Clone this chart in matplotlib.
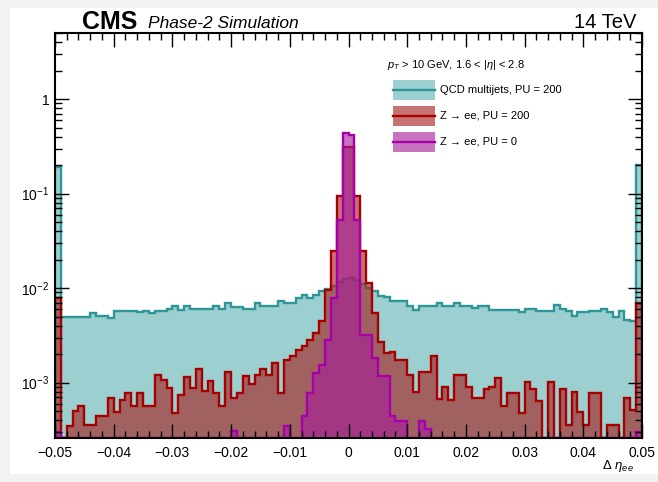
import numpy as np
import matplotlib
matplotlib.use("Agg")
import matplotlib.pyplot as plt
from matplotlib.patches import Rectangle
from matplotlib.lines import Line2D
from matplotlib.ticker import FixedLocator, FixedFormatter, MultipleLocator, LogLocator, NullFormatter

plt.rcParams["font.family"] = ["Liberation Sans", "DejaVu Sans"]
plt.rcParams["mathtext.fontset"] = "custom"
plt.rcParams["mathtext.rm"] = "Liberation Sans"
plt.rcParams["mathtext.it"] = "Liberation Sans:italic"

# 100 bins of 0.001 in delta eta
edges = np.linspace(-0.05, 0.05, 101)

qcd_pu200 = [
    0.19, 5.0e-3, 5.0e-3, 5.0e-3, 5.0e-3, 5.0e-3, 5.5e-3, 5.1e-3, 5.1e-3, 4.8e-3,
    5.7e-3, 5.7e-3, 5.7e-3, 5.7e-3, 5.6e-3, 5.7e-3, 5.5e-3, 5.7e-3, 5.8e-3, 6.0e-3,
    6.4e-3, 5.9e-3, 6.5e-3, 6.0e-3, 6.0e-3, 6.0e-3, 6.0e-3, 6.4e-3, 6.0e-3, 6.9e-3,
    6.3e-3, 6.3e-3, 6.0e-3, 6.0e-3, 6.9e-3, 6.4e-3, 6.4e-3, 6.4e-3, 7.3e-3, 7.0e-3,
    7.0e-3, 7.9e-3, 8.5e-3, 7.9e-3, 8.5e-3, 9.3e-3, 9.8e-3, 1.05e-2, 1.15e-2, 1.25e-2,
    1.28e-2, 1.22e-2, 1.12e-2, 1.0e-2, 9.3e-3, 8.2e-3, 8.0e-3, 7.3e-3, 7.3e-3, 7.3e-3,
    6.5e-3, 5.9e-3, 6.5e-3, 6.4e-3, 6.4e-3, 6.9e-3, 6.4e-3, 6.4e-3, 6.9e-3, 6.4e-3,
    6.4e-3, 6.2e-3, 6.5e-3, 6.5e-3, 5.9e-3, 5.9e-3, 5.9e-3, 5.9e-3, 5.9e-3, 5.55e-3,
    6.0e-3, 6.0e-3, 5.7e-3, 5.7e-3, 5.7e-3, 6.6e-3, 6.0e-3, 5.7e-3, 5.1e-3, 5.55e-3,
    5.55e-3, 5.7e-3, 5.7e-3, 6.0e-3, 5.55e-3, 5.0e-3, 5.7e-3, 4.6e-3, 4.5e-3, 0.2,
]

zee_pu200 = [
    7.9e-3, 0, 3.5e-4, 5.0e-4, 5.6e-4, 3.6e-4, 3.6e-4, 4.4e-4, 4.4e-4, 6.9e-4,
    4.95e-4, 6.5e-4, 7.75e-4, 5.6e-4, 7.75e-4, 5.7e-4, 5.7e-4, 1.21e-3, 1.07e-3, 8.75e-4,
    4.8e-4, 7.4e-4, 1.16e-3, 8.75e-4, 1.39e-3, 8.1e-4, 1.03e-3, 7.75e-4, 5.6e-4, 1.31e-3,
    6.9e-4, 7.75e-4, 1.18e-3, 9.7e-4, 1.21e-3, 1.39e-3, 1.21e-3, 1.61e-3, 7.75e-4, 1.75e-3,
    1.93e-3, 2.23e-3, 2.42e-3, 2.85e-3, 3.36e-3, 4.46e-3, 9.5e-3, 2.46e-2, 9.4e-2, 0.31,
    0.31, 9.4e-2, 2.46e-2, 1.14e-2, 5.5e-3, 2.7e-3, 2.06e-3, 2.1e-3, 1.75e-3, 1.75e-3,
    1.2e-3, 8.0e-4, 1.3e-3, 1.3e-3, 1.9e-3, 6.8e-4, 9.0e-4, 6.5e-4, 1.2e-3, 1.2e-3,
    8.9e-4, 6.9e-4, 6.9e-4, 8.5e-4, 8.9e-4, 1.13e-3, 5.7e-4, 7.8e-4, 7.8e-4, 4.8e-4,
    1.02e-3, 8.5e-4, 6.4e-4, 0, 1.02e-3, 0, 8.5e-4, 3.6e-4, 7.9e-4, 4.9e-4,
    3.6e-4, 7.8e-4, 7.8e-4, 0, 3.6e-4, 3.6e-4, 0, 6.9e-4, 5.2e-4, 7.0e-3,
]

zee_pu0 = [
    3.0e-4, 0, 0, 0, 0, 0, 0, 0, 0, 0,
    0, 0, 0, 0, 0, 0, 0, 0, 0, 0,
    0, 0, 0, 0, 0, 0, 0, 0, 0, 0,
    3.1e-4, 0, 0, 0, 0, 0, 0, 0, 0, 3.5e-4,
    0, 0, 4.4e-4, 7.8e-4, 1.26e-3, 1.55e-3, 2.8e-3, 7.9e-3, 5.2e-2, 0.44,
    0.42, 5.2e-2, 3.2e-3, 3.2e-3, 1.84e-3, 1.17e-3, 1.17e-3, 4.4e-4, 3.9e-4, 3.9e-4,
    0, 0, 3.9e-4, 3.2e-4, 0, 0, 0, 0, 0, 0,
    0, 0, 0, 0, 0, 0, 0, 0, 0, 0,
    0, 0, 0, 0, 0, 0, 0, 0, 0, 0,
    0, 0, 0, 0, 0, 0, 0, 0, 0, 3.0e-4,
]

labels = ["QCD multijets, PU = 200", "Z \u2192 ee, PU = 200", "Z \u2192 ee, PU = 0"]
x_ticks = [-0.05, -0.04, -0.03, -0.02, -0.01, 0.0, 0.01, 0.02, 0.03, 0.04, 0.05]
x_tick_labels = ["\u22120.05", "\u22120.04", "\u22120.03", "\u22120.02", "\u22120.01", "0",
                 "0.01", "0.02", "0.03", "0.04", "0.05"]
y_ticks = [1e-3, 1e-2, 1e-1, 1.0]
y_tick_labels = ["$10^{-3}$", "$10^{-2}$", "$10^{-1}$", "1"]

y_min, y_max = 2.6e-4, 5.0

fill_colors = ["#9ccfcf", "#a51e1e", "#a51e9a"]
fill_alpha = [1.0, 0.62, 0.62]
line_colors = ["#2e9696", "#a80000", "#a800a8"]

fig = plt.figure(figsize=(6.58, 4.82), dpi=100, facecolor="#f2f2f2")
fig.patches.append(Rectangle((10 / 658, 8 / 482), 648 / 658, 466 / 482, transform=fig.transFigure,
                             facecolor="white", edgecolor="none", zorder=-10))
ax = fig.add_axes([55 / 658, 44 / 482, 587 / 658, 405 / 482])

for vals, fc, a, lc in zip([qcd_pu200, zee_pu200, zee_pu0], fill_colors, fill_alpha, line_colors):
    v = np.maximum(np.asarray(vals, dtype=float), y_min)
    ax.stairs(v, edges, baseline=y_min, fill=True, color=fc, alpha=a, lw=0)
    ax.stairs(v, edges, baseline=y_min, color=lc, lw=1.7)

ax.set_xlim(-0.05, 0.05)
ax.set_yscale("log")
ax.set_ylim(y_min, y_max)
ax.xaxis.set_major_locator(FixedLocator(x_ticks))
ax.xaxis.set_major_formatter(FixedFormatter(x_tick_labels))
ax.xaxis.set_minor_locator(MultipleLocator(0.002))
ax.yaxis.set_major_locator(FixedLocator(y_ticks))
ax.yaxis.set_major_formatter(FixedFormatter(y_tick_labels))
ax.yaxis.set_minor_locator(LogLocator(base=10, subs=range(2, 10)))
ax.yaxis.set_minor_formatter(NullFormatter())
ax.tick_params(which="both", direction="in", top=True, right=True, width=1.0, labelsize=10)
ax.tick_params(which="major", length=10)
ax.tick_params(which="minor", length=5)
ax.tick_params(axis="x", pad=6)
ax.tick_params(axis="y", pad=4)
for sp in ax.spines.values():
    sp.set_linewidth(1.5)

ax.text((634 - 55) / 587, -(466 - 438) / 405, "\u0394 $\\eta_{ee}$", transform=ax.transAxes,
        ha="right", va="center", fontsize=9.5)

# header texts
fig.text(82 / 658, 1 - 22 / 482, "CMS", fontsize=18, fontweight="bold", ha="left", va="center")
fig.text(148 / 658, 1 - 23 / 482, "Phase-2 Simulation", fontsize=12.5, style="italic", ha="left", va="center")
fig.text(636 / 658, 1 - 22 / 482, "14 TeV", fontsize=14.5, ha="right", va="center")

# legend
def ax_xy(px, py):
    return (px - 55) / 587, (438 - py) / 405

hx, hy = ax_xy(387, 65)
ax.text(hx, hy, "$p_{T}$ > 10 GeV, 1.6 < |$\\eta$| < 2.8", transform=ax.transAxes, fontsize=8, ha="left", va="center")
for i, (lab, fc, a, lc) in enumerate(zip(labels, fill_colors, fill_alpha, line_colors)):
    py = [90, 116, 142][i]
    x0, y0 = ax_xy(393, py + 10)
    x1, y1 = ax_xy(435, py - 10)
    ax.add_patch(Rectangle((x0, y0), x1 - x0, y1 - y0, transform=ax.transAxes, facecolor=fc, alpha=a,
                           edgecolor="none", zorder=5))
    ym = (y0 + y1) / 2
    ax.add_line(Line2D([x0, x1], [ym, ym], transform=ax.transAxes, color=lc, lw=1.7, zorder=6))
    tx, _ = ax_xy(440, py)
    ax.text(tx, ym, lab, transform=ax.transAxes, fontsize=8, ha="left", va="center", zorder=6)

fig.savefig("out.png", dpi=100, facecolor=fig.get_facecolor())
